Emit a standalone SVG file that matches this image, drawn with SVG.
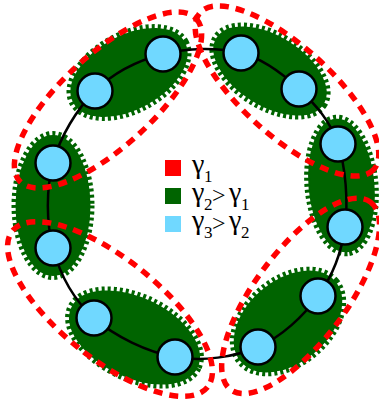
<svg xmlns="http://www.w3.org/2000/svg" width="379" height="408" viewBox="0 0 379 408">
<style>
.g{fill:#006400;stroke:#ffffff;stroke-width:2}
.gt{fill:none;stroke:#006400;stroke-width:6;stroke-dasharray:3 3}
.r{fill:none;stroke:#ff0000;stroke-width:5.5;stroke-dasharray:9 7}
.n{fill:#70d8ff;stroke:#000;stroke-width:2.5}
.lk{fill:none;stroke:#000;stroke-width:2.5}
.t{font-family:"Liberation Serif","Times New Roman",serif;fill:#000}
</style>
<rect width="379" height="408" fill="#fff"/>
<g id="groups">
<g id="g-ab" transform="translate(129,72.5) rotate(-28.5)"><ellipse class="g" rx="64.5" ry="38"/><ellipse class="gt" rx="64.5" ry="38"/></g>
<g id="g-jk" transform="translate(270,71) rotate(31.8)"><ellipse class="g" rx="64" ry="36"/><ellipse class="gt" rx="64" ry="36"/></g>
<g id="g-cd" transform="translate(53,205.5)"><ellipse class="g" rx="38.5" ry="71.5"/><ellipse class="gt" rx="38.5" ry="71.5"/></g>
<g id="g-lg" transform="translate(341.5,185.5) rotate(85)"><ellipse class="g" rx="68" ry="34"/><ellipse class="gt" rx="68" ry="34"/></g>
<g id="g-ef" transform="translate(134.5,337.5) rotate(25.7)"><ellipse class="g" rx="71" ry="41"/><ellipse class="gt" rx="71" ry="41"/></g>
<g id="g-hi" transform="translate(288,321.5) rotate(-40.4)"><ellipse class="g" rx="63" ry="42"/><ellipse class="gt" rx="63" ry="42"/></g>
</g>
<g id="connectors">
<path class="lk" d="M163,54 C138.7,60.3 113.3,72.8 95,91 C76.7,109.2 60,136.8 53,163 C46,189.2 46.2,222.2 53,248 C59.8,273.8 73.7,299.8 94,318 C114.3,336.2 147.7,352.2 175,357 C202.3,361.8 234.2,357.2 258,347 C281.8,336.8 303.5,316 318,296 C332.5,276 341.7,252.3 345,227 C348.3,201.7 345.7,167 338,144 C330.3,121 315.2,104.2 299,89 C282.8,73.8 263.7,58.8 241,53 C218.3,47.2 187.3,47.7 163,54 Z"/>
</g>
<g id="nodes">
<g id="n-a"><circle class="n" cx="163" cy="54" r="17.5"/></g>
<g id="n-b"><circle class="n" cx="95" cy="91" r="17.5"/></g>
<g id="n-c"><circle class="n" cx="53" cy="163" r="17.5"/></g>
<g id="n-d"><circle class="n" cx="53" cy="248" r="17.5"/></g>
<g id="n-e"><circle class="n" cx="94" cy="318" r="17.5"/></g>
<g id="n-f"><circle class="n" cx="175" cy="357" r="17.5"/></g>
<g id="n-i"><circle class="n" cx="258" cy="347" r="17.5"/></g>
<g id="n-h"><circle class="n" cx="318" cy="296" r="17.5"/></g>
<g id="n-g"><circle class="n" cx="345" cy="227" r="17.5"/></g>
<g id="n-l"><circle class="n" cx="338" cy="144" r="17.5"/></g>
<g id="n-k"><circle class="n" cx="299" cy="89" r="17.5"/></g>
<g id="n-j"><circle class="n" cx="241" cy="53" r="17.5"/></g>
</g>
<g id="clusters">
<ellipse class="r" transform="translate(108,100) rotate(-42.6)" rx="120" ry="46"/>
<ellipse class="r" transform="translate(110,309) rotate(38.7)" rx="125" ry="50"/>
<ellipse class="r" transform="translate(287,91) rotate(42.1)" rx="117" ry="44.5"/>
<ellipse class="r" transform="translate(300.6,295.9) rotate(-53.3)" rx="117" ry="45.7"/>
</g>
<g id="legend">
<rect x="165" y="160" width="16" height="16" fill="#ff0000"/>
<rect x="165" y="188" width="16" height="16" fill="#006400"/>
<rect x="165" y="216" width="16" height="16" fill="#70d8ff"/>
<text class="t" font-size="28" x="192" y="173">γ</text>
<text class="t" font-size="17" x="204" y="182">1</text>
<text class="t" font-size="28" x="192" y="201">γ</text>
<text class="t" font-size="17" x="204" y="210">2</text>
<text class="t" font-size="24" x="212" y="203">&gt;</text>
<text class="t" font-size="28" x="229" y="201">γ</text>
<text class="t" font-size="17" x="241" y="210">1</text>
<text class="t" font-size="28" x="192" y="229">γ</text>
<text class="t" font-size="17" x="204" y="238">3</text>
<text class="t" font-size="24" x="212" y="231">&gt;</text>
<text class="t" font-size="28" x="229" y="229">γ</text>
<text class="t" font-size="17" x="241" y="238">2</text>
</g>
</svg>
